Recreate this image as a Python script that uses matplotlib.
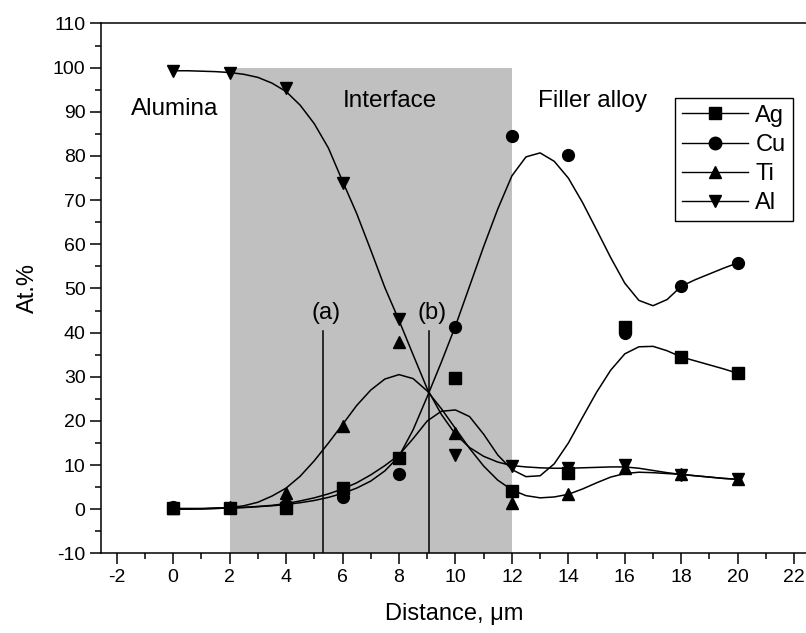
import numpy as np
import matplotlib
matplotlib.use("Agg")
import matplotlib.pyplot as plt
from matplotlib.ticker import MultipleLocator

# measured compositions (markers)
dist = [0, 2, 4, 6, 8, 10, 12, 14, 16, 18, 20]
ag = [0.2, 0.3, 0.4, 4.9, 11.7, 29.8, 4.1, 8.3, 41.3, 34.5, 30.8]
cu = [0.5, 0.3, 0.9, 2.9, 7.9, 41.2, 84.6, 80.3, 40.0, 50.5, 55.8]
ti = [0.3, 0.6, 3.8, 18.8, 37.9, 17.2, 1.5, 3.4, 9.3, 7.9, 6.8]
al = [99.3, 98.9, 95.4, 73.8, 43.0, 12.4, 9.8, 9.4, 10.0, 7.8, 6.8]

# fitted curves, every 0.5 um
fit_x = [0, 0.5, 1, 1.5, 2, 2.5, 3, 3.5, 4, 4.5, 5, 5.5, 6, 6.5, 7, 7.5, 8, 8.5, 9, 9.5,
         10, 10.5, 11, 11.5, 12, 12.5, 13, 13.5, 14, 14.5, 15, 15.5, 16, 16.5, 17, 17.5,
         18, 18.5, 19, 19.5, 20]
fit_ag = [0.0, 0.05, 0.1, 0.2, 0.3, 0.45, 0.65, 0.9, 1.3, 1.9, 2.6, 3.5, 4.6, 6.0, 7.8, 9.9,
          12.3, 16.0, 20.0, 22.2, 22.5, 21.0, 17.0, 12.3, 9.0, 7.4, 7.6, 10.3, 15.0, 20.8,
          26.5, 31.5, 35.2, 36.8, 36.9, 35.9, 34.5, 33.6, 32.7, 31.8, 30.8]
fit_cu = [0.0, 0.05, 0.1, 0.2, 0.3, 0.4, 0.6, 0.8, 1.1, 1.5, 2.0, 2.7, 3.6, 4.8, 6.4, 8.7,
          12.0, 18.0, 25.5, 33.3, 41.5, 50.5, 59.5, 68.0, 75.5, 79.8, 80.7, 78.8, 75.0, 69.5,
          63.3, 57.0, 51.2, 47.3, 46.1, 47.5, 50.5, 52.0, 53.3, 54.6, 55.8]
fit_ti = [0.2, 0.2, 0.2, 0.3, 0.4, 0.8, 1.6, 3.0, 4.8, 7.5, 11.0, 15.0, 19.2, 23.5, 27.0,
          29.5, 30.5, 29.6, 26.8, 22.8, 18.3, 13.8, 9.8, 6.6, 4.4, 3.1, 2.6, 2.8, 3.4, 4.6,
          6.0, 7.3, 8.1, 8.4, 8.3, 8.1, 7.9, 7.6, 7.3, 7.0, 6.8]
fit_al = [99.3, 99.3, 99.2, 99.1, 98.9, 98.5, 97.8, 96.5, 94.6, 91.5, 87.3, 81.8, 74.3,
          67.0, 58.7, 50.2, 42.8, 35.0, 27.3, 21.5, 17.0, 14.0, 12.0, 10.7, 9.9, 9.6, 9.4,
          9.3, 9.3, 9.4, 9.5, 9.6, 9.6, 9.3, 8.8, 8.3, 7.9, 7.6, 7.3, 7.0, 6.8]

series = [("Ag", "s", ag, fit_ag), ("Cu", "o", cu, fit_cu),
          ("Ti", "^", ti, fit_ti), ("Al", "v", al, fit_al)]

interface = (2, 12)
marks = [("(a)", 5.32), ("(b)", 9.06)]

plt.rcParams["font.family"] = ["Liberation Sans", "DejaVu Sans"]
plt.rcParams["font.size"] = 14
plt.rcParams["axes.unicode_minus"] = False


def main():
    fig = plt.figure(figsize=(8.06, 6.33), dpi=100)
    ax = fig.add_axes([0.1259, 0.1256, 0.8741, 0.8373])

    ax.axvspan(interface[0], interface[1], ymin=0, ymax=110 / 120, color="#c0c0c0", lw=0, zorder=0)

    for lab, xv in marks:
        ax.plot([xv, xv], [-10, 40.3], color="k", lw=1.1, zorder=2)
        ax.text(xv + 0.1, 44.5, lab, ha="center", va="center", fontsize=17)

    for name, mk, vals, fit in series:
        ax.plot(fit_x, fit, color="k", lw=1.1, zorder=3)
        ax.plot(dist, vals, ls="none", marker=mk, color="k", ms=8.5, zorder=4)
        # legend proxy
        ax.plot([], [], color="k", lw=1.0, marker=mk, ms=9, label=name)

    ax.text(0.06, 90.7, "Alumina", ha="center", va="center", fontsize=17.5)
    ax.text(7.68, 92.5, "Interface", ha="center", va="center", fontsize=17.5)
    ax.text(14.86, 92.5, "Filler alloy", ha="center", va="center", fontsize=17.5)

    ax.set_xlim(-2.54, 22.42)
    ax.set_ylim(-10, 110)
    ax.xaxis.set_major_locator(MultipleLocator(2))
    ax.xaxis.set_minor_locator(MultipleLocator(1))
    ax.yaxis.set_major_locator(MultipleLocator(10))
    ax.yaxis.set_minor_locator(MultipleLocator(5))
    ax.tick_params(which="major", direction="out", length=8, width=1.1, labelsize=14)
    ax.tick_params(which="minor", direction="out", length=4.5, width=1.1)

    for s in ("left", "bottom", "top"):
        ax.spines[s].set_linewidth(1.1)
    ax.spines["right"].set_visible(False)

    ax.set_xlabel("Distance, \u03bcm", fontsize=17, labelpad=12)
    ax.set_ylabel("At.%", fontsize=17, labelpad=10)

    leg = fig.legend(loc="upper left", bbox_to_anchor=(0.8375, 0.8457), fontsize=17,
                     handlelength=2.8, handletextpad=0.3, labelspacing=0.3,
                     borderpad=0.3, borderaxespad=0, fancybox=False, framealpha=1)
    leg.get_frame().set_edgecolor("k")
    leg.get_frame().set_linewidth(1.0)

    fig.savefig("out.png", dpi=100)
    plt.close(fig)


if __name__ == "__main__":
    main()
